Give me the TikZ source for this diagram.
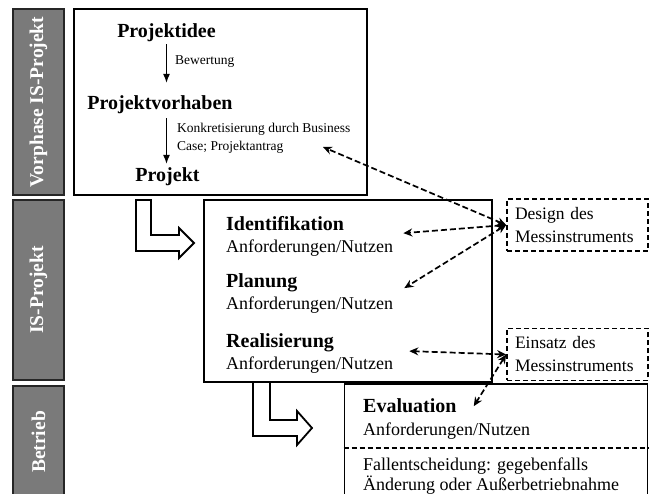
\documentclass[tikz,border=0pt]{standalone}
\usepackage{fontspec}
\setmainfont{Liberation Serif}
\usetikzlibrary{arrows.meta}
\definecolor{barGray}{RGB}{122,122,122}

\begin{document}
\begin{tikzpicture}[x=1pt, y=-1pt,
    phasebar/.style={draw=black!85, fill=barGray, line width=1.8pt, rotate=90, inner sep=0pt,
        minimum height=51pt, text=white, font=\fontsize{19.5}{22}\selectfont\bfseries},
    frame/.style={draw, line width=1.9pt, inner sep=0pt},
    dashframe/.style={draw, line width=1.7pt, dash pattern=on 5pt off 3pt, inner xsep=8pt, inner ysep=0pt,
        minimum height=52pt, text width=125pt, align=left, font=\fontsize{17.5}{23}\selectfont},
    title/.style={anchor=base, inner sep=0pt, font=\fontsize{20}{22}\selectfont\bfseries},
    note/.style={inner sep=0pt, align=left, font=\fontsize{13.5}{18}\selectfont},
    phase/.style={anchor=north west, inner sep=0pt, align=left, font=\fontsize{18}{22}\selectfont},
    flow/.style={-{Latex[length=9pt,width=7pt]}, line width=1.4pt},
    measure/.style={{Stealth[length=9pt,width=8pt]}-{Stealth[length=9pt,width=8pt]},
        line width=1.7pt, dash pattern=on 6pt off 3pt},
    hollow/.style={draw, line width=1.8pt, fill=white, line join=miter}]

    \clip (0,0) rectangle (649,494);

    % Phase bars on the left
    \node[phasebar, minimum width=186pt] (vorbar) at (38.5,102) {Vorphase IS-Projekt};
    \node[phasebar, minimum width=180pt] (isbar) at (38.5,290) {IS-Projekt};
    \node[phasebar, minimum width=112pt] (betriebbar) at (38.5,442) {Betrieb};

    % Frames
    \node[frame, minimum width=293pt, minimum height=186pt] (vorbox) at (220.5,102) {};
    \node[frame, minimum width=288pt, minimum height=182pt] (isbox) at (348,291) {};
    \node[frame, minimum width=303pt, minimum height=120pt] (evalbox) at (496,444) {};
    \draw[line width=1.7pt, dash pattern=on 5pt off 3pt] (evalbox.west |- 0,448) -- (evalbox.east |- 0,448);

    % Vorphase
    \node[title] (idee) at (166.5,38) {Projektidee};
    \node[title] (vorhaben) at (160,110) {Projektvorhaben};
    \node[title] (projekt) at (167.5,182) {Projekt};
    \draw[flow, shorten <=1.7pt, shorten >=13pt] (idee.south) -- (idee.south |- vorhaben.north);
    \draw[flow, shorten <=3.7pt, shorten >=4pt] (vorhaben.south -| idee.south) -- (projekt.north -| idee.south);
    \node[note, anchor=base west] (bewertung) at (175,65) {Bewertung};
    \node[note, anchor=north west] (konkret) at (177,123) {Konkretisierung durch Business\\Case; Projektantrag};
    \coordinate (konktip) at (323,147);

    % IS-Projekt
    \node[phase] (ident) at (226,216) {{\fontsize{20}{22}\selectfont\bfseries Identifikation}\\Anforderungen/Nutzen};
    \node[phase] (plan) at (226,273) {{\fontsize{20}{22}\selectfont\bfseries Planung}\\Anforderungen/Nutzen};
    \node[phase] (real) at (226,333) {{\fontsize{20}{22}\selectfont\bfseries Realisierung}\\Anforderungen/Nutzen};

    % Betrieb
    \node[title, anchor=base west] (evalhead) at (363,413) {Evaluation};
    \node[phase, anchor=base west] (evalsub) at (363,436) {Anforderungen/Nutzen};
    \node[phase, font=\fontsize{18}{18}\selectfont] (fall) at (363,458) {Fallentscheidung: gegebenfalls\\Änderung oder Außerbetriebnahme};

    % Measurement boxes
    \node[dashframe] (design) at (577.5,225) {Design des\\Messinstruments};
    \node[dashframe] (einsatz) at (577.5,354.5) {Einsatz des\\Messinstruments};

    % Dashed links
    \draw[measure] (design.west) -- (konktip);
    \draw[measure] (design.west) -- ([xshift=10pt, yshift=3pt]ident.east);
    \draw[measure] (design.west) -- ([xshift=11pt, yshift=5pt]plan.east);
    \draw[measure] (einsatz.west) -- ([xshift=16pt, yshift=2pt]real.east);
    \draw[measure] (einsatz.west) -- ([xshift=17pt]evalhead.east);

    % Hollow transition arrows
    \draw[hollow] (136,200) -- (151,200) -- (151,235) -- (179,235) -- (179,228) -- (194,243)
        -- (179,258) -- (179,251) -- (136,251) -- cycle;
    \draw[hollow] (253,382) -- (270,382) -- (270,420) -- (297,420) -- (297,411) -- (312,428)
        -- (297,445) -- (297,436) -- (253,436) -- cycle;
\end{tikzpicture}
\end{document}
